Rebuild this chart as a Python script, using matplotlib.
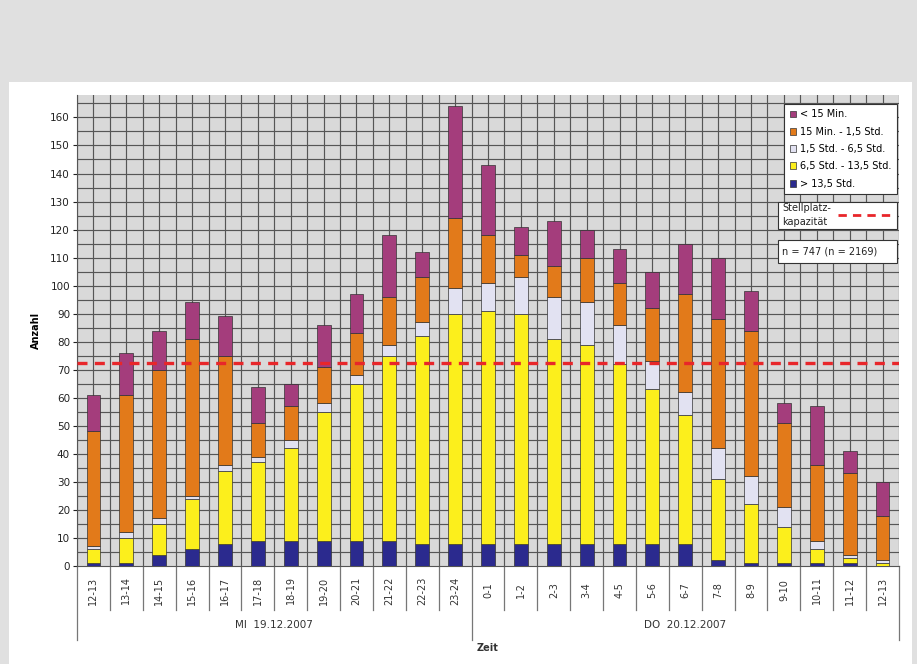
import numpy as np
import matplotlib
matplotlib.use("Agg")
import matplotlib.pyplot as plt
from matplotlib.patches import Patch, Rectangle
from matplotlib.lines import Line2D
import matplotlib.transforms as mtransforms

# Daten ======================================================================
zeiten = ["12-13", "13-14", "14-15", "15-16", "16-17", "17-18", "18-19", "19-20",
          "20-21", "21-22", "22-23", "23-24", "0-1", "1-2", "2-3", "3-4", "4-5",
          "5-6", "6-7", "7-8", "8-9", "9-10", "10-11", "11-12", "12-13"]

ueber_13_5 = [1, 1, 4, 6, 8, 9, 9, 9, 9, 9, 8, 8, 8, 8, 8, 8, 8, 8, 8, 2, 1, 1, 1, 1, 0]
std_6_13 = [5, 9, 11, 18, 26, 28, 33, 46, 56, 66, 74, 82, 83, 82, 73, 71, 64, 55, 46, 29, 21, 13, 5, 2, 1]
std_1_6 = [1, 2, 2, 1, 2, 2, 3, 3, 3, 4, 5, 9, 10, 13, 15, 15, 14, 10, 8, 11, 10, 7, 3, 1, 1]
min15_1_5 = [41, 49, 53, 56, 39, 12, 12, 13, 15, 17, 16, 25, 17, 8, 11, 16, 15, 19, 35, 46, 52, 30, 27, 29, 16]
unter_15 = [13, 15, 14, 13, 14, 13, 8, 15, 14, 22, 9, 40, 25, 10, 16, 10, 12, 13, 18, 22, 14, 7, 21, 8, 12]

kapazitaet = 72.5

serien = [ueber_13_5, std_6_13, std_1_6, min15_1_5, unter_15]
namen = ["> 13,5 Std.", "6,5 Std. - 13,5 Std.", "1,5 Std. - 6,5 Std.",
         "15 Min. - 1,5 Std.", "< 15 Min."]
farben = ["#2b2a8e", "#fcef1c", "#e2e2f2", "#e27a1a", "#a43d7c"]
rot = "#e8262a"

# Abbildung ==================================================================
W, H = 917, 664
fig = plt.figure(figsize=(W / 100, H / 100), dpi=100)
fig.patch.set_facecolor("#e0e0e0")
fig.add_artist(Rectangle((9 / W, 0), 903 / W, 582 / H, transform=fig.transFigure,
                         facecolor="white", edgecolor="none", zorder=0))

ax = fig.add_axes([77 / W, 98 / H, 822 / W, 471 / H])
ax.set_facecolor("#d9d9d9")

x = np.arange(len(zeiten))
unten = np.zeros(len(zeiten))
for werte, farbe, name in zip(serien, farben, namen):
    ax.bar(x, werte, width=0.42, bottom=unten, color=farbe, edgecolor="#333333",
           linewidth=0.5, zorder=3, label=name)
    unten += np.array(werte)

ax.axhline(kapazitaet, color=rot, linestyle=(0, (3, 2.2)), linewidth=2.4, zorder=4)

# Gitter
for yv in np.arange(5, 170, 5):
    ax.axhline(yv, color="#565656", linewidth=0.85, zorder=1)
for xv in np.arange(-0.5, len(zeiten), 0.5):
    ax.axvline(xv, color="#565656", linewidth=0.85, zorder=1)

ax.set_xlim(-0.5, len(zeiten) - 0.5)
ax.set_ylim(0, 168)
ax.set_yticks(np.arange(0, 161, 10))
ax.tick_params(axis="y", labelsize=7.5, length=3, colors="#222222", pad=2)
ax.set_xticks([])
for s in ["top", "right"]:
    ax.spines[s].set_visible(False)
ax.spines["left"].set_color("#555555")
ax.spines["bottom"].set_color("#555555")
ax.set_ylabel("Anzahl", fontsize=7, fontweight="bold", labelpad=7)

# Kategorieachse
trans = mtransforms.blended_transform_factory(ax.transData, ax.transAxes)
for i, lab in enumerate(zeiten):
    ax.text(i, -0.052, lab, rotation=90, ha="center", va="center", fontsize=7,
            transform=trans, color="#333333")
for k in range(len(zeiten) + 1):
    lang = k in (0, 12, len(zeiten))
    ax.plot([k - 0.5, k - 0.5], [0, -0.157 if lang else -0.093], transform=trans,
            color="#777777", linewidth=0.9, clip_on=False)
ax.text(5.5, -0.125, "MI  19.12.2007", ha="center", va="center", fontsize=7.5,
        transform=trans, color="#333333")
ax.text(18, -0.125, "DO  20.12.2007", ha="center", va="center", fontsize=7.5,
        transform=trans, color="#333333")
ax.text(12, -0.174, "Zeit", ha="center", va="center", fontsize=7, fontweight="bold",
        transform=trans, color="#333333")

# Legenden
handles = [Patch(facecolor=f, edgecolor="#333333", linewidth=0.5) for f in farben][::-1]
leg1 = ax.legend(handles, namen[::-1], loc="upper right",
                 bbox_to_anchor=(897 / W, 1 - 104 / H), bbox_transform=fig.transFigure,
                 fontsize=7, handlelength=0.7, handleheight=0.7, handletextpad=0.4,
                 labelspacing=0.75, borderpad=0.55, borderaxespad=0, fancybox=False,
                 framealpha=1, edgecolor="#333333")
leg1.get_frame().set_linewidth(0.8)


def kasten(x0, y0, x1, y1):
    fig.add_artist(Rectangle((x0 / W, 1 - y1 / H), (x1 - x0) / W, (y1 - y0) / H,
                             transform=fig.transFigure, facecolor="white",
                             edgecolor="#333333", linewidth=0.8, zorder=5))


kasten(778, 202, 897, 229)
fig.text(782 / W, 1 - 215.5 / H, "Stellplatz-\nkapazität", fontsize=7, va="center",
         ha="left", color="#222222", linespacing=1.5, zorder=6)
fig.add_artist(Line2D([838 / W, 893 / W], [1 - 215 / H, 1 - 215 / H],
                      transform=fig.transFigure, color=rot, linestyle=(0, (3, 2.2)),
                      linewidth=2, zorder=6))

kasten(778, 240, 897, 263)
fig.text(782 / W, 1 - 251.5 / H, "n = 747 (n = 2169)", fontsize=7, va="center",
         ha="left", color="#222222", zorder=6)

fig.savefig("out.png", dpi=100, facecolor=fig.get_facecolor())
